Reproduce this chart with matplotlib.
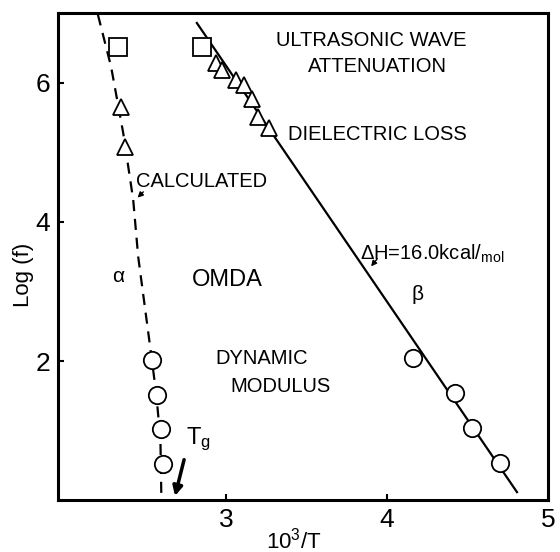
import matplotlib
matplotlib.use("Agg")
import matplotlib.pyplot as plt

plt.rcParams['font.family'] = ['Liberation Sans', 'DejaVu Sans']
plt.rcParams['mathtext.fontset'] = 'custom'
plt.rcParams['mathtext.rm'] = 'Liberation Sans'

# squares (ultrasonic wave attenuation)
sq_x = [2.33, 2.85]
sq_y = [6.52, 6.52]
# triangles (dielectric loss)
tri_a_x = [2.35, 2.375]
tri_a_y = [5.65, 5.08]
tri_b_x = [2.94, 2.975, 3.06, 3.11, 3.16, 3.20, 3.27]
tri_b_y = [6.29, 6.19, 6.04, 5.97, 5.76, 5.51, 5.35]
# circles (dynamic modulus)
circ_a_x = [2.54, 2.575, 2.60, 2.61]
circ_a_y = [2.01, 1.51, 1.02, 0.52]
circ_b_x = [4.16, 4.42, 4.53, 4.70]
circ_b_y = [2.04, 1.54, 1.04, 0.53]
# calculated alpha curve
calc_x = [2.206, 2.288, 2.363, 2.425, 2.456, 2.531, 2.569, 2.594, 2.60]
calc_y = [6.98, 6.23, 5.28, 4.32, 3.50, 2.19, 1.51, 0.86, 0.0]
# beta line (dH = 16.0 kcal/mol)
beta_x = [2.82, 4.806]
beta_y = [6.86, 0.115]

fig = plt.figure(figsize=(5.6, 5.52), dpi=100)
ax = fig.add_axes([0.104, 0.094, 0.875, 0.882])

ax.plot(calc_x, calc_y, color='black', lw=1.6, ls=(0, (5, 3.5)))
ax.plot(beta_x, beta_y, color='black', lw=1.6)

mk = dict(ls='none', mfc='white', mec='black', mew=1.3, zorder=3)
ax.plot(sq_x, sq_y, marker='s', ms=13, **mk)
ax.plot(tri_a_x, tri_a_y, marker='^', ms=11, **mk)
ax.plot(tri_b_x, tri_b_y, marker='^', ms=11, **mk)
ax.plot(circ_a_x, circ_a_y, marker='o', ms=12.5, **mk)
ax.plot(circ_b_x, circ_b_y, marker='o', ms=12.5, **mk)

ax.set_xlim(1.96, 5.0)
ax.set_ylim(0, 7.0)
ax.set_xticks([3, 4, 5])
ax.set_yticks([2, 4, 6])
ax.tick_params(direction='in', length=4, width=1.5, labelsize=19, pad=6)
for s in ax.spines.values():
    s.set_linewidth(2.2)

ax.set_xlabel('10$^3$/T', fontsize=16)
ax.set_ylabel('Log (f)', fontsize=16)
ax.xaxis.set_label_coords(0.48, -0.056)
ax.yaxis.set_label_coords(-0.05, 0.463)

fs = 14.5
ax.text(3.9, 6.61, 'ULTRASONIC WAVE', fontsize=fs, ha='center', va='center')
ax.text(3.94, 6.24, 'ATTENUATION', fontsize=fs, ha='center', va='center')
ax.text(3.94, 5.25, 'DIELECTRIC LOSS', fontsize=fs, ha='center', va='center')
ax.text(2.44, 4.58, 'CALCULATED', fontsize=fs, ha='left', va='center')
ax.annotate('', xy=(2.44, 4.32), xytext=(2.50, 4.46),
            arrowprops=dict(arrowstyle='-|>', color='black', lw=1, mutation_scale=8))
ax.text(3.83, 3.54, '$\\Delta$H=16.0kcal$\\mathregular{/_{mol}}$', fontsize=fs,
        ha='left', va='center')
ax.annotate('', xy=(3.89, 3.33), xytext=(3.95, 3.50),
            arrowprops=dict(arrowstyle='-|>', color='black', lw=1, mutation_scale=8))
ax.text(2.33, 3.22, 'α', fontsize=15, ha='center', va='center')
ax.text(3.01, 3.16, 'OMDA', fontsize=17, ha='center', va='center')
ax.text(4.19, 2.95, 'β', fontsize=15, ha='center', va='center')
ax.text(3.22, 2.04, 'DYNAMIC', fontsize=fs, ha='center', va='center')
ax.text(3.34, 1.64, 'MODULUS', fontsize=fs, ha='center', va='center')
ax.text(2.83, 0.88, 'T$\\mathregular{_g}$', fontsize=17, ha='center', va='center')
ax.annotate('', xy=(2.68, 0.02), xytext=(2.745, 0.62),
            arrowprops=dict(arrowstyle='-|>', color='black', lw=2.5, mutation_scale=14))

fig.savefig('out.png', dpi=100)
